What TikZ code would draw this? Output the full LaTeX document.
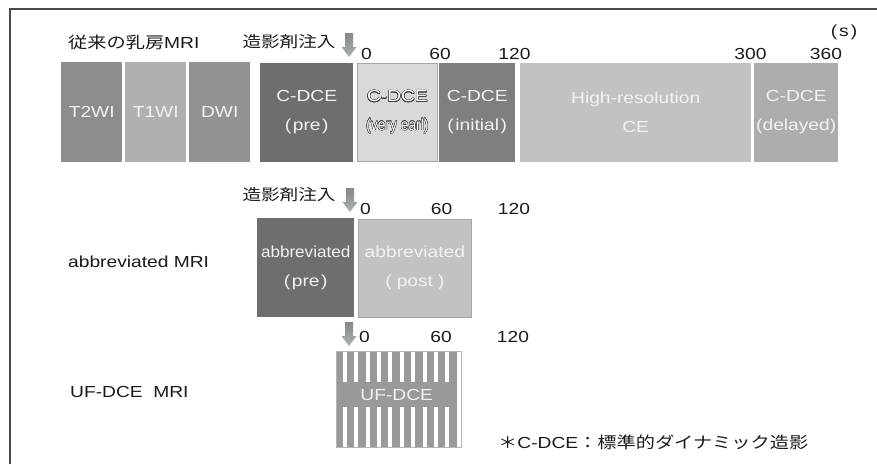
\documentclass[tikz,border=0pt]{standalone}
\usepackage{fontspec}
\setmainfont{Liberation Sans}[FakeStretch=1.2]
\newfontfamily\jp{Noto Sans CJK JP}[FakeStretch=1.2]
\usepackage[copies]{contour}
\contourlength{0.45pt}
\newcommand\jptext[1]{{\jp #1}}
\newcommand\pp[1]{(\kern1.5pt #1\kern1.5pt)}
\definecolor{cT2}{HTML}{8C8C8C}
\definecolor{cT1}{HTML}{B0B0B0}
\definecolor{cDWI}{HTML}{939393}
\definecolor{cPre}{HTML}{6E6E6E}
\definecolor{cVE}{HTML}{D9D9D9}
\definecolor{cVEb}{HTML}{A8A8A8}
\definecolor{cInit}{HTML}{7F7F7F}
\definecolor{cHR}{HTML}{C1C3C3}
\definecolor{cDel}{HTML}{ADADAD}
\definecolor{cPost}{HTML}{C1C3C3}
\definecolor{cPostb}{HTML}{A5A5A5}
\definecolor{cStripe}{HTML}{999999}
\definecolor{cUFb}{HTML}{B5B5B5}
\definecolor{txt}{HTML}{1A1A1A}
\definecolor{boxtxt}{HTML}{F2F2F2}
\definecolor{frame}{HTML}{4A4A4A}
\definecolor{arrTop}{HTML}{888888}
\definecolor{arrBot}{HTML}{A9B2B2}
\begin{document}
\begin{tikzpicture}[x=1pt,y=-1pt,
  lab/.style={inner sep=0pt, text=txt, font=\fontsize{16}{19}\selectfont},
  jlab/.style={inner sep=0pt, text=txt, font=\jp\fontsize{15.5}{19}\selectfont},
  blk/.style={inner sep=0pt, anchor=north west, text=boxtxt, align=center,
              font=\fontsize{16}{28.5}\selectfont},
  injarrow/.pic={\shade[top color=arrTop, bottom color=arrBot]
     (-4,0) -- (4,0) -- (4,14) -- (7.5,14) -- (0,24) -- (-7.5,14) -- (-4,14) -- cycle;}
]
\useasboundingbox (0,0) rectangle (877,464);
% frame
\draw[frame, line width=1.3pt] (10,464) -- (10,9) -- (877,9);

% ---------- row 1 ----------
\node[lab, anchor=west] (l1) at (68,42) {\jptext{従来の乳房}MRI};
\node[jlab] (inj1) at (289,42) {造影剤注入};
\pic at (349,33) {injarrow};
\node[lab, anchor=west] (n10) at (361,54) {0};
\node[lab] (n160) at (440,54) {60};
\node[lab] (n1120) at (514.5,54) {120};
\node[lab] (n1300) at (750.5,54) {300};
\node[lab] (n1360) at (826,54) {360};
\node[lab] (unit) at (844,32.5) {(\kern2pt s\kern2pt)};

\node[blk, fill=cT2, minimum width=61, minimum height=100] (t2) at (61,62) {T2WI};
\node[blk, fill=cT1, minimum width=61, minimum height=100] (t1) at (125,62) {T1WI};
\node[blk, fill=cDWI, minimum width=61, minimum height=100] (dwi) at (189,62) {DWI};
\node[blk, fill=cPre, minimum width=93, minimum height=99] (pre) at (260,62.5) {C-DCE\\\pp{pre}};
\node[blk, fill=cVE, draw=cVEb, line width=0.8pt, minimum width=80, minimum height=98, text=white] (ve) at (357,63)
  {\contour{darkgray}{C-DCE}\\\scalebox{0.72}[1]{\contour{darkgray}{(very earl)}}};
\node[blk, fill=cInit, minimum width=76, minimum height=99] (init) at (439,62.5) {C-DCE\\\pp{initial}};
\node[blk, fill=cHR, minimum width=231, minimum height=99] (hr) at (520,62.5) {High-resolution\\CE};
\node[blk, fill=cDel, minimum width=84, minimum height=99] (del) at (754,62.5) {C-DCE\\(delayed)};

% ---------- row 2 ----------
\node[jlab] (inj2) at (289,195) {造影剤注入};
\pic at (350,188) {injarrow};
\node[lab, anchor=west] (n20) at (360,208.5) {0};
\node[lab] (n260) at (441.5,208.5) {60};
\node[lab] (n2120) at (514,208.5) {120};
\node[lab, anchor=west] (l2) at (68,262) {abbreviated MRI};
\node[blk, fill=cPre, minimum width=97, minimum height=99] (apre) at (257,218)
  {\scalebox{0.89}[1]{abbreviated}\\\pp{pre}};
\node[blk, fill=cPost, draw=cPostb, line width=0.8pt, minimum width=113, minimum height=98] (apost) at (358,218.5)
  {abbreviated\\(\kern5pt post\kern5pt)};

% ---------- row 3 ----------
\pic at (349,322) {injarrow};
\node[lab, anchor=west] (n30) at (359,337) {0};
\node[lab] (n360) at (441,337) {60};
\node[lab] (n3120) at (513,337) {120};
\node[lab, anchor=west] (l3) at (70,392) {UF-DCE\ \ MRI};
\node[draw=cUFb, line width=0.8pt, fill=cStripe, inner sep=0pt, anchor=north west,
      minimum width=125, minimum height=96] (uf) at (336,351) {};
\foreach \k in {0,...,10}
  \fill[white] (342.7+11.4*\k,351.5) rectangle ++(4,95);
\node[fill=cStripe, inner sep=0pt, anchor=north west, minimum width=107, minimum height=25,
      text=boxtxt, font=\fontsize{16}{19}\selectfont] (uflab) at (343,382) {UF-DCE};

% footnote
\node[lab, anchor=west] (note) at (498,442) {\jptext{＊}C-DCE\jptext{：標準的ダイナミック造影}};
\end{tikzpicture}
\end{document}
